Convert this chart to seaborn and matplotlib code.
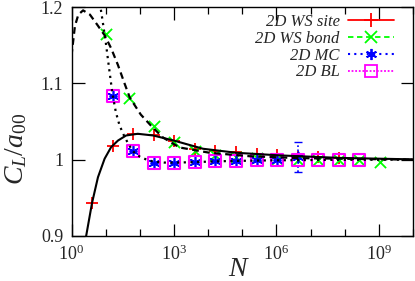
import numpy as np
import pandas as pd
import matplotlib
matplotlib.use("Agg")
import matplotlib.pyplot as plt
import seaborn as sns
from matplotlib.lines import Line2D
from matplotlib.ticker import FixedLocator, NullFormatter

# ---------------- DATA ----------------
site_N = [4, 16, 64, 256, 1024, 4096, 16384, 65536, 262144, 1048576,
          4194304, 16777216, 67108864]
site_val = [0.943, 1.018, 1.034, 1.032, 1.024, 1.014, 1.012, 1.010, 1.008,
            1.006, 1.004, 1.003, 1.002]

bond_N = [10, 48, 256, 1024, 4096, 16384, 65536, 262144, 1048576, 4194304,
          16777216, 67108864, 268435456, 1073741824]
bond_val = [1.164, 1.081, 1.044, 1.023, 1.011, 1.006, 1.003, 1.002, 1.001,
            1.000, 0.999, 0.999, 0.999, 0.997]

mc_N = [16, 64, 256, 1024, 4096, 16384, 65536, 262144, 1048576, 4194304]
mc_val = [1.084, 1.011, 0.996, 0.996, 0.997, 0.998, 0.998, 0.999, 1.000, 1.003]
mc_err = [0, 0, 0, 0, 0, 0, 0, 0, 0, 0.0196]

bl_N = [16, 64, 256, 1024, 4096, 16384, 65536, 262144, 1048576, 4194304,
        16777216, 67108864, 268435456]
bl_val = [1.084, 1.011, 0.996, 0.996, 0.997, 0.998, 0.998, 0.999, 1.000,
          1.000, 1.000, 1.000, 0.999]

# fit curves (log10 N, value)
site_fit_logN = [0.41, 0.433, 0.60, 0.775, 0.97, 1.16, 1.36, 1.60, 1.94, 2.39,
                 3.0, 3.85, 4.83, 6.1, 7.85, 10.0]
site_fit_val = [0.895, 0.901, 0.943, 0.977, 1.0013, 1.0164, 1.025, 1.0317,
                1.0339, 1.0317, 1.025, 1.0143, 1.009, 1.0056, 1.0023, 1.0004]

bond_fit_logN = [0.0, 0.10, 0.20, 0.34, 0.54, 0.75, 0.97, 1.16, 1.36, 1.56,
                 1.71, 2.03, 2.37, 2.68, 3.16, 4.05, 5.22, 6.68, 10.0]
bond_fit_val = [1.136, 1.175, 1.190, 1.1956, 1.190, 1.177, 1.163, 1.146,
                1.124, 1.099, 1.081, 1.059, 1.0425, 1.029, 1.016, 1.009,
                1.0045, 1.002, 1.000]

bl_fit_logN = [0.83, 0.9, 1.0, 1.1, 1.2, 1.3, 1.4, 1.5, 1.6, 1.7, 1.8, 1.9,
               2.0, 2.2, 2.4, 2.7, 3.2, 3.7, 4.6, 5.8, 7.5, 10.0]
bl_fit_val = [1.205, 1.185, 1.155, 1.12, 1.086, 1.062, 1.046, 1.035, 1.026,
              1.018, 1.011, 1.007, 1.004, 1.000, 0.9975, 0.9962, 0.9963,
              0.9970, 0.9982, 0.9991, 0.9997, 1.000]

labels = ["2D WS site", "2D WS bond", "2D MC", "2D BL"]
colors = ["#ff0000", "#00ff00", "#0000ff", "#ff00ff"]

# ---------------- STYLE ----------------
sns.set_style("ticks")
plt.rcParams["font.family"] = ["Liberation Serif", "DejaVu Serif"]
plt.rcParams["mathtext.fontset"] = "custom"
plt.rcParams["mathtext.rm"] = "Liberation Serif"
plt.rcParams["mathtext.it"] = "Liberation Serif:italic"

fig = plt.figure(figsize=(4.15, 2.81), dpi=100)
ax = fig.add_axes([71.5 / 415, 1 - 236 / 281, (413 - 71.5) / 415, (236 - 7) / 281])

# ---------------- DATA POINTS ----------------
sns.scatterplot(x=site_N, y=site_val, marker="+", s=80, color=colors[0],
                linewidth=1.3, ax=ax, zorder=3)
sns.scatterplot(x=bond_N, y=bond_val, marker="x", s=65, color=colors[1],
                linewidth=1.3, ax=ax, zorder=3)
eb = ax.errorbar(mc_N, mc_val, yerr=mc_err, fmt="none", ecolor=colors[2],
                 elinewidth=1.2, capsize=3, zorder=3)
eb[2][0].set_linestyle((0, (1, 1.5)))
sns.scatterplot(x=mc_N, y=mc_val, marker=(6, 2, 0), s=55, color=colors[2],
                linewidth=1.2, ax=ax, zorder=4)
sns.scatterplot(x=bl_N, y=bl_val, marker="s", s=75, facecolor="none",
                edgecolor=colors[3], linewidth=1.5, ax=ax, zorder=4)

# ---------------- FIT CURVES ----------------
fits = pd.DataFrame({"N": 10 ** np.array(site_fit_logN), "v": site_fit_val})
sns.lineplot(data=fits, x="N", y="v", color="black", lw=1.5, ax=ax,
             sort=False, estimator=None, zorder=5)
fitb = pd.DataFrame({"N": 10 ** np.array(bond_fit_logN), "v": bond_fit_val})
sns.lineplot(data=fitb, x="N", y="v", color="black", lw=1.6, ax=ax,
             sort=False, estimator=None, dashes=False, zorder=5,
             linestyle=(0, (3, 2)))
fitl = pd.DataFrame({"N": 10 ** np.array(bl_fit_logN), "v": bl_fit_val})
sns.lineplot(data=fitl, x="N", y="v", color="black", lw=1.6, ax=ax,
             sort=False, estimator=None, dashes=False, zorder=5,
             linestyle=(0, (1, 2)))

# ---------------- AXES ----------------
ax.set_xscale("log")
ax.set_xlim(1, 1e10)
ax.set_ylim(0.9, 1.2)
ax.xaxis.set_major_locator(FixedLocator([1, 1e3, 1e6, 1e9]))
ax.xaxis.set_minor_locator(FixedLocator([10.0 ** k for k in range(0, 11)]))
ax.xaxis.set_minor_formatter(NullFormatter())
ax.set_xticklabels([r"$10^{0}$", r"$10^{3}$", r"$10^{6}$", r"$10^{9}$"])
ax.set_yticks([0.9, 1.0, 1.1, 1.2])
ax.set_yticklabels(["0.9", "1", "1.1", "1.2"])
ax.tick_params(which="both", direction="in", top=True, right=True,
               labelsize=13, color="black", width=0.9)
ax.tick_params(which="major", length=9, pad=6)
ax.tick_params(which="minor", length=5)
ax.tick_params(axis="y", which="minor", left=False, right=False)
for s in ax.spines.values():
    s.set_color("black")
    s.set_linewidth(1.0)

ax.set_xlabel(r"$N$", fontsize=20)
ax.xaxis.set_label_coords(0.49, -0.09)
ax.set_ylabel(r"$C_L/a_{00}$", fontsize=20)
ax.yaxis.set_label_coords(-0.125, 0.38)

# ---------------- LEGEND ----------------
handles = [
    Line2D([], [], color=colors[0], ls="-", lw=1.3, marker="+", ms=10, mew=1.3),
    Line2D([], [], color=colors[1], ls=(0, (3, 2)), lw=1.3, marker="x", ms=8, mew=1.3),
    Line2D([], [], color=colors[2], ls=(0, (1, 2)), lw=1.5, marker=(6, 2, 0), ms=8, mew=1.3),
    Line2D([], [], color=colors[3], ls=(0, (1, 1)), lw=1.3, marker="s", ms=8,
           mfc="none", mew=1.3),
]
ax.legend(handles, labels, loc="upper right", bbox_to_anchor=(0.944, 0.97),
          frameon=False, markerfirst=False,
          prop={"family": "Liberation Serif", "style": "italic", "size": 12},
          handlelength=2.75, handletextpad=0.5, labelspacing=0.05,
          borderpad=0, borderaxespad=0)

fig.savefig("out.png", dpi=100)
